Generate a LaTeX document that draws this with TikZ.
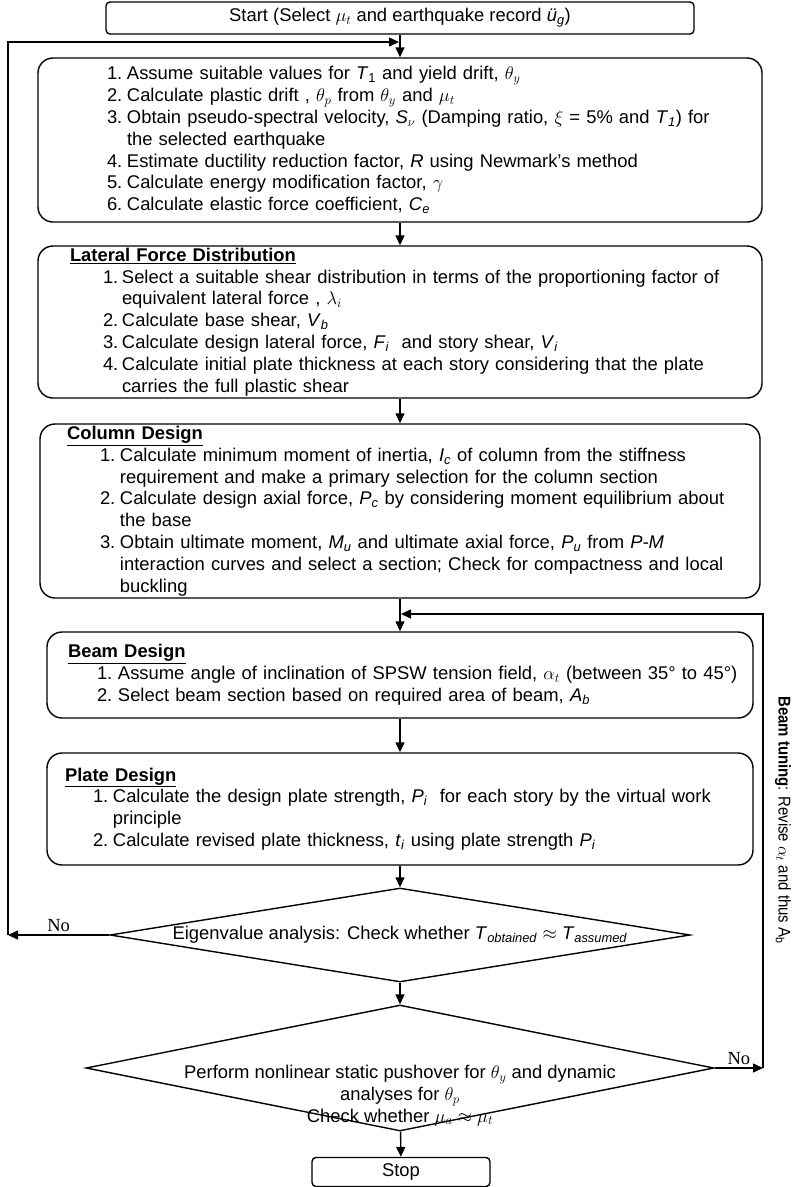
\documentclass[tikz,border=0pt]{standalone}
\usepackage{fix-cm}
\usepackage{fontspec}
\setmainfont{Liberation Sans}
\newfontfamily\noface{Liberation Serif}
\newfontfamily\tuneface{Liberation Sans}[FakeStretch=0.88]
\usetikzlibrary{shapes.geometric, arrows.meta, positioning, calc}

\newlength{\numind}
\newlength{\numw}
\newlength{\titind}
\newcommand{\boxhead}[1]{\noindent\hspace*{\titind}\underline{\textbf{#1}}\par}
\newcommand{\stepline}[2]{\hangindent=\dimexpr\numind+\numw\relax\hangafter=1\noindent\hspace*{\numind}\makebox[\numw][l]{#1.}#2\par}
\newcommand{\vsub}[2]{\textit{#1}\textsubscript{\textit{#2}}}

\tikzset{
    stepbox/.style={rectangle, draw, line width=1.4pt, rounded corners=15pt, align=left, inner xsep=0pt, inner ysep=0pt, font=\fontsize{18.4}{21.8}\selectfont},
    termbox/.style={rectangle, draw, line width=1.4pt, rounded corners=4pt, inner sep=0pt, font=\fontsize{18.4}{21.8}\selectfont},
    check/.style={diamond, draw, line width=1.4pt, inner sep=0pt, align=center, font=\fontsize{18.4}{21.8}\selectfont},
    arrow/.style={-{Stealth[length=10pt, width=9pt, inset=0pt]}, line width=1.4pt},
    nolabel/.style={font=\noface\fontsize{18.5}{20}\selectfont, inner sep=3pt},
    tunelabel/.style={font=\tuneface\fontsize{17}{20}\selectfont, inner sep=0pt}
}

\begin{document}
\begin{tikzpicture}[x=1pt, y=-1pt]
    \useasboundingbox (0,0) rectangle (794,1187);

    % start and first block
    \node[termbox, minimum width=588pt, minimum height=32pt] (start) at (400,18) {Start (Select $\mu_t$ and earthquake record \textit{ü}\textsubscript{\textit{g}})};

    \node[stepbox, text width=724pt, minimum height=164pt, execute at begin node={\setlength{\numind}{69pt}\setlength{\numw}{20pt}}] (init) at (400,140) {%
        \stepline{1}{Assume suitable values for \textit{T}\textsubscript{1} and yield drift, $\theta_y$}
        \stepline{2}{Calculate plastic drift , $\theta_p$ from $\theta_y$ and $\mu_t$}
        \stepline{3}{Obtain pseudo-spectral velocity, \textit{S}\textsubscript{$\nu$} (Damping ratio, $\xi$ = 5\% and \vsub{T}{1}) for\newline the selected earthquake}
        \stepline{4}{Estimate ductility reduction factor, \textit{R} using Newmark’s method}
        \stepline{5}{Calculate energy modification factor, $\gamma$}
        \stepline{6}{Calculate elastic force coefficient, \vsub{C}{e}}};

    % lateral force distribution
    \node[stepbox, text width=724pt, minimum height=152pt, execute at begin node={\setlength{\titind}{32pt}\setlength{\numind}{65pt}\setlength{\numw}{19pt}}] (lfd) at (400,322) {%
        \boxhead{Lateral Force Distribution}
        \stepline{1}{Select a suitable shear distribution in terms of the proportioning factor of\newline equivalent lateral force , $\lambda_i$}
        \stepline{2}{Calculate base shear, \vsub{V}{b}}
        \stepline{3}{Calculate design lateral force, \vsub{F}{i}\ \ and story shear, \vsub{V}{i}}
        \stepline{4}{Calculate initial plate thickness at each story considering that the plate\newline carries the full plastic shear}};

    % column design
    \node[stepbox, text width=720pt, minimum height=174pt, execute at begin node={\setlength{\titind}{27pt}\setlength{\numind}{60pt}\setlength{\numw}{20pt}}] (col) at (400,511) {%
        \boxhead{Column Design}
        \stepline{1}{Calculate minimum moment of inertia, \vsub{I}{c} of column from the stiffness\newline requirement and make a primary selection for the column section}
        \stepline{2}{Calculate design axial force, \vsub{P}{c} by considering moment equilibrium about\newline the base}
        \stepline{3}{Obtain ultimate moment, \vsub{M}{u} and ultimate axial force, \vsub{P}{u} from \textit{P-M}\newline interaction curves and select a section; Check for compactness and local\newline buckling}};

    % beam design
    \node[stepbox, text width=706pt, minimum height=86pt, execute at begin node={\setlength{\titind}{21pt}\setlength{\numind}{50pt}\setlength{\numw}{21pt}}] (beam) at (400,675) {%
        \boxhead{Beam Design}
        \stepline{1}{Assume angle of inclination of SPSW tension field, $\alpha_t$ (between 35° to 45°)}
        \stepline{2}{Select beam section based on required area of beam, \vsub{A}{b}}};

    % plate design
    \node[stepbox, text width=706pt, minimum height=112pt, execute at begin node={\setlength{\titind}{18pt}\setlength{\numind}{46pt}\setlength{\numw}{20pt}}] (plate) at (400,809) {%
        \boxhead{Plate Design}
        \stepline{1}{Calculate the design plate strength, \vsub{P}{i}\ \ for each story by the virtual work\newline principle}
        \stepline{2}{Calculate revised plate thickness, \vsub{t}{i} using plate strength \vsub{P}{i}}};

    % checks
    \node[check, aspect=6.17, minimum width=580pt, minimum height=94pt] (eig) at (400,935) {Eigenvalue analysis: Check whether \vsub{T}{obtained} $\approx$ \vsub{T}{assumed}};
    \node[check, aspect=4.98, minimum width=628pt, minimum height=126pt] (push) at (400,1068) {\smash{\raisebox{-32pt}{\parbox[c]{470pt}{\centering Perform nonlinear static pushover for $\theta_y$ and dynamic\\ analyses for $\theta_p$\\ Check whether $\mu_a \approx \mu_t$}}}};
    \node[termbox, minimum width=178pt, minimum height=29pt] (stop) at (401,1172) {Stop};

    % loop ends
    \coordinate (nol) at (8,935);
    \coordinate (mrg) at (399,42);
    \coordinate (nor) at (763,1068);
    \coordinate (tun) at (401,614);
    \node[tunelabel, rotate=-90] (tunetxt) at (783,820) {\textbf{Beam tuning}: Revise $\alpha_t$ and thus A\textsubscript{b}};

    \draw[arrow] (start) -- (init);
    \draw[arrow] (init) -- (lfd);
    \draw[arrow] (lfd) -- (col);
    \draw[arrow] (col) -- (beam);
    \draw[arrow] (beam) -- (plate);
    \draw[arrow] (plate) -- (eig);
    \draw[arrow] (eig) -- (push);
    \draw[arrow] (push) -- (stop);

    \draw[arrow] (eig.west) -- node[nolabel, above] {No} (nol);
    \draw[arrow] (nol) |- (mrg);
    \draw[arrow] (push.east) -- node[nolabel, above] {No} (nor);
    \draw[arrow] (nor) |- (tun);
\end{tikzpicture}
\end{document}
